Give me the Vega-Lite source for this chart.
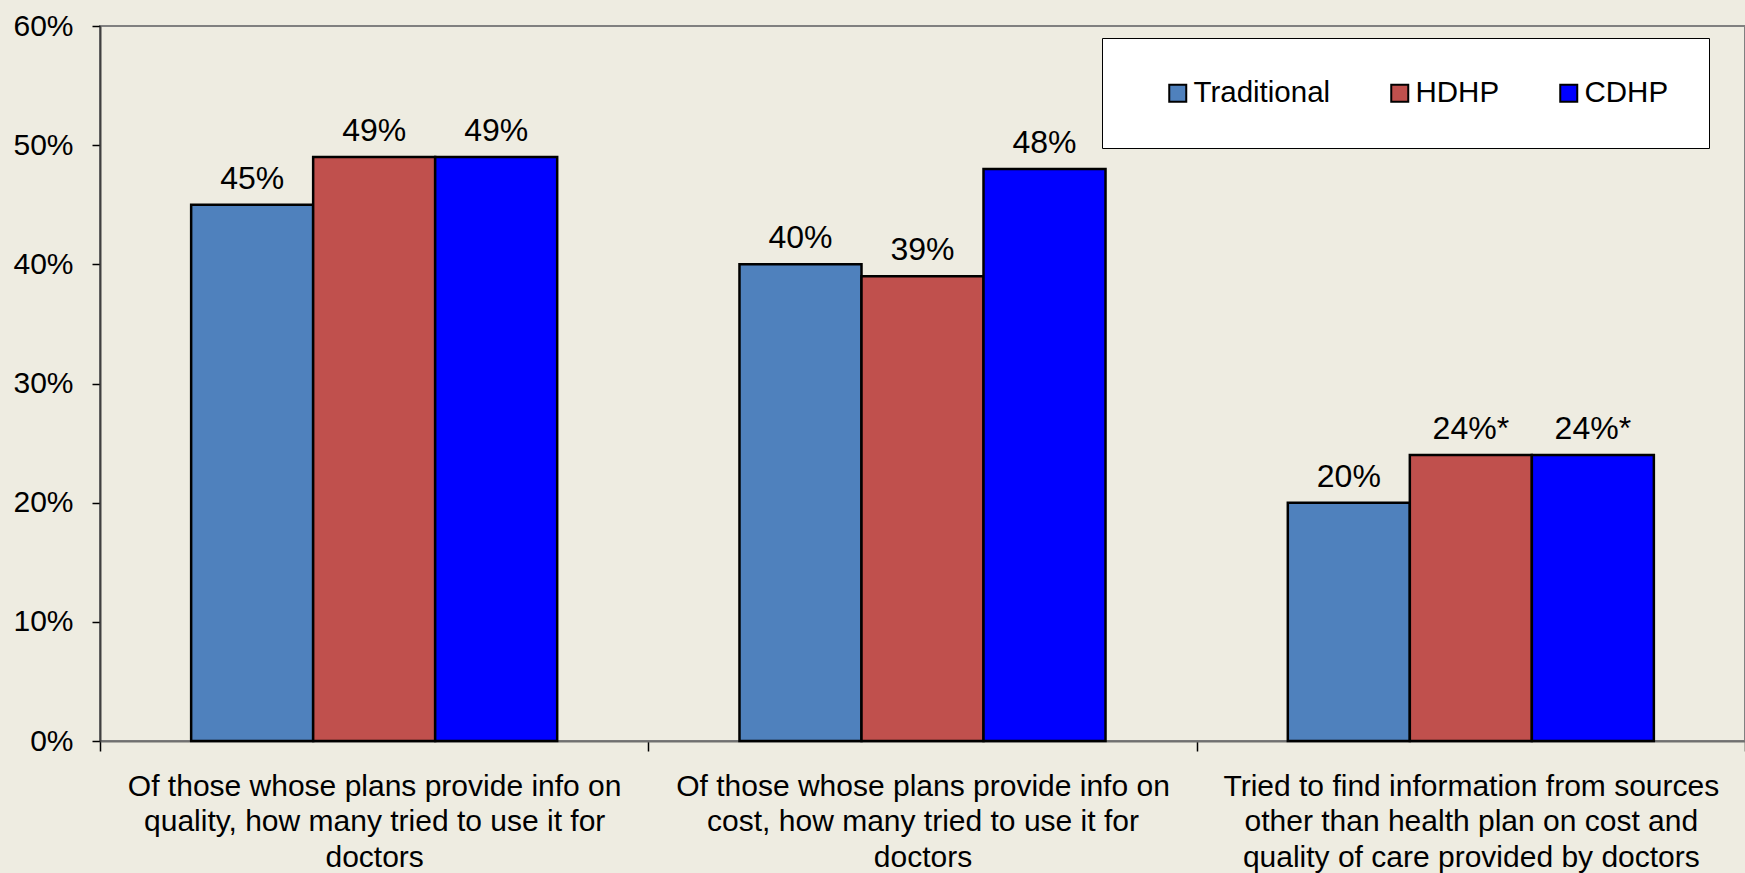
{
  "$schema": "https://vega.github.io/schema/vega-lite/v6.json",
  "autosize": "none",
  "width": 1645,
  "height": 715,
  "padding": {"left": 100, "top": 26, "right": 0, "bottom": 132},
  "background": "#EEECE1",
  "config": {
    "font": "Liberation Sans",
    "view": {"stroke": "#808080", "strokeWidth": 2}
  },
  "data": {
    "values": [
      {"group": "Of those whose plans provide info on|quality, how many tried to use it for|doctors", "plan": "Traditional", "value": 0.45, "label": "45%"},
      {"group": "Of those whose plans provide info on|quality, how many tried to use it for|doctors", "plan": "HDHP", "value": 0.49, "label": "49%"},
      {"group": "Of those whose plans provide info on|quality, how many tried to use it for|doctors", "plan": "CDHP", "value": 0.49, "label": "49%"},
      {"group": "Of those whose plans provide info on|cost, how many tried to use it for|doctors", "plan": "Traditional", "value": 0.40, "label": "40%"},
      {"group": "Of those whose plans provide info on|cost, how many tried to use it for|doctors", "plan": "HDHP", "value": 0.39, "label": "39%"},
      {"group": "Of those whose plans provide info on|cost, how many tried to use it for|doctors", "plan": "CDHP", "value": 0.48, "label": "48%"},
      {"group": "Tried to find information from sources|other than health plan on cost and|quality of care provided by doctors", "plan": "Traditional", "value": 0.20, "label": "20%"},
      {"group": "Tried to find information from sources|other than health plan on cost and|quality of care provided by doctors", "plan": "HDHP", "value": 0.24, "label": "24%*"},
      {"group": "Tried to find information from sources|other than health plan on cost and|quality of care provided by doctors", "plan": "CDHP", "value": 0.24, "label": "24%*"}
    ]
  },
  "encoding": {
    "x": {
      "field": "group",
      "type": "nominal",
      "sort": null,
      "scale": {"paddingInner": 0, "paddingOuter": 0},
      "axis": {
        "title": null,
        "labelExpr": "split(datum.label, '|')",
        "labelAngle": 0,
        "labelFontSize": 30,
        "labelLineHeight": 35.5,
        "labelLimit": 1000,
        "labelColor": "black",
        "labelPadding": 20,
        "tickBand": "extent",
        "tickSize": 10,
        "tickColor": "black",
        "tickWidth": 1.5,
        "domainColor": "#707070",
        "domainWidth": 2
      }
    },
    "xOffset": {
      "field": "plan",
      "type": "nominal",
      "sort": ["Traditional", "HDHP", "CDHP"],
      "scale": {"paddingInner": 0, "paddingOuter": 0.747}
    },
    "y": {
      "field": "value",
      "type": "quantitative",
      "scale": {"domain": [0, 0.6], "nice": false},
      "axis": {
        "title": null,
        "format": ".0%",
        "values": [0, 0.1, 0.2, 0.3, 0.4, 0.5, 0.6],
        "grid": false,
        "labelFontSize": 30,
        "labelColor": "black",
        "labelPadding": 19,
        "tickSize": 8,
        "tickColor": "black",
        "tickWidth": 1.5,
        "domainColor": "#404040",
        "domainWidth": 2
      }
    }
  },
  "layer": [
    {
      "mark": {"type": "bar", "stroke": "black", "strokeWidth": 2.5},
      "encoding": {
        "color": {
          "field": "plan",
          "type": "nominal",
          "scale": {"domain": ["Traditional", "HDHP", "CDHP"], "range": ["#4F81BD", "#C0504D", "#0000FF"]},
          "legend": {
            "orient": "none",
            "legendX": 1002,
            "legendY": 12,
            "direction": "horizontal",
            "title": " ",
            "titleOrient": "left",
            "titleFontSize": 10,
            "titlePadding": 21,
            "padding": 40,
            "fillColor": "white",
            "strokeColor": "black",
            "symbolType": "square",
            "symbolSize": 289,
            "symbolStrokeColor": "black",
            "symbolStrokeWidth": 2,
            "symbolOpacity": 1,
            "labelFontSize": 29.5,
            "labelColor": "black",
            "labelOffset": 1,
            "columnPadding": 54
          }
        }
      }
    },
    {
      "mark": {"type": "text", "baseline": "alphabetic", "align": "center", "dy": -16, "fontSize": 32, "color": "black"},
      "encoding": {
        "text": {"field": "label"}
      }
    }
  ]
}
